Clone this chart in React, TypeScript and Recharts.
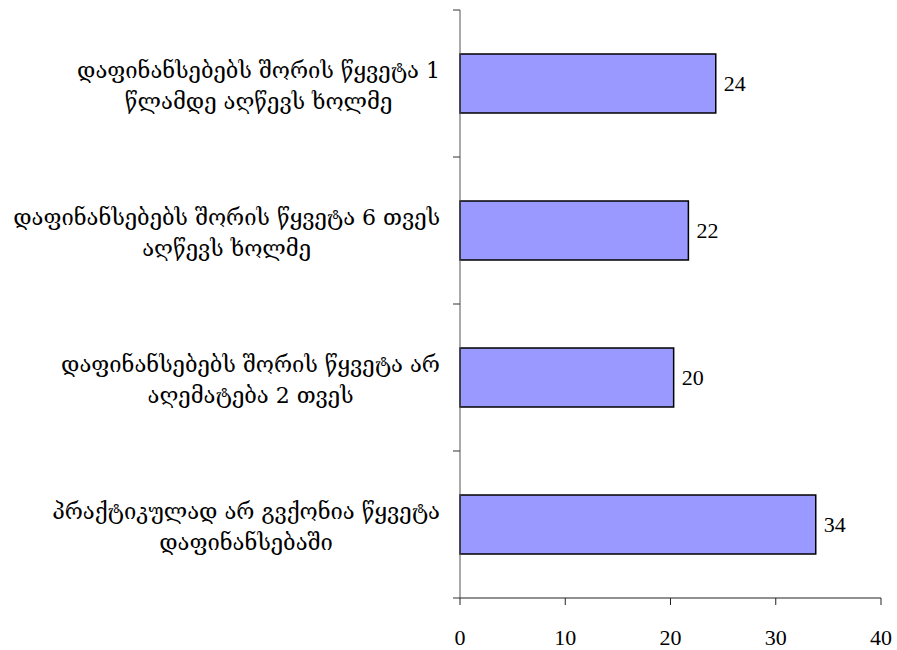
import React from 'react'
import { BarChart, Bar, XAxis, YAxis, LabelList } from 'recharts'

// category labels, "\n" marks the line break used in the original
const categories = [
  'დაფინანსებებს შორის წყვეტა 1\nწლამდე აღწევს ხოლმე',
  'დაფინანსებებს შორის წყვეტა 6 თვეს\nაღწევს ხოლმე',
  'დაფინანსებებს შორის წყვეტა არ\nაღემატება 2 თვეს',
  'პრაქტიკულად არ გვქონია წყვეტა\nდაფინანსებაში',
]
const values = [24.3, 21.7, 20.3, 33.8]
const xTicks = [0, 10, 20, 30, 40]

const data = categories.map((name, i) => ({ name, value: values[i] }))

const W = 897
const H = 650
const MARGIN = { top: 10, right: 16, left: 0, bottom: 0 }
const Y_AXIS_W = 460
const X_AXIS_H = 52
const PLOT_LEFT = MARGIN.left + Y_AXIS_W
const PLOT_H = H - MARGIN.top - X_AXIS_H
const BAND = PLOT_H / categories.length

const GEO_FONT = '"DejaVu Serif", "Liberation Serif", serif'
const NUM_FONT = '"Liberation Serif", "DejaVu Serif", serif'
const GEO_SIZE = 22
const LINE_H = 31

let ctx: CanvasRenderingContext2D | null = null
const measure = (s: string) => {
  if (!ctx) ctx = document.createElement('canvas').getContext('2d')
  if (!ctx) return s.length * GEO_SIZE * 0.6
  ctx.font = `${GEO_SIZE}px ${GEO_FONT}`
  return ctx.measureText(s).width
}

const CategoryTick = (props: any) => {
  const { y, payload, index } = props
  const lines: string[] = String(payload.value).split('\n')
  const blockW = Math.max(...lines.map(measure))
  const right = PLOT_LEFT - 20
  const cx = right - blockW / 2
  const n = lines.length
  const top = y - BAND / 2
  return (
    <g>
      <line x1={PLOT_LEFT - 7} x2={PLOT_LEFT} y1={top} y2={top} stroke="#333" />
      {index === categories.length - 1 && (
        <line x1={PLOT_LEFT - 7} x2={PLOT_LEFT} y1={y + BAND / 2} y2={y + BAND / 2} stroke="#333" />
      )}
      {lines.map((l, i) => (
        <text
          key={i}
          x={cx}
          y={y + (i - (n - 1) / 2) * LINE_H + 2}
          textAnchor="middle"
          dominantBaseline="central"
          fontFamily={GEO_FONT}
          fontSize={GEO_SIZE}
          fill="#000"
        >
          {l}
        </text>
      ))}
    </g>
  )
}

export default function App() {
  return (
    <div style={{ position: 'absolute', left: 0, top: 0, width: W, height: H, background: '#fff' }}>
      <BarChart
        width={W}
        height={H}
        data={data}
        layout="vertical"
        margin={MARGIN}
        barCategoryGap="30%"
      >
        <XAxis
          type="number"
          domain={[0, 40]}
          ticks={xTicks}
          height={X_AXIS_H}
          tickSize={7}
          tickMargin={24}
          axisLine={{ stroke: '#222' }}
          tickLine={{ stroke: '#222' }}
          tick={{ fill: '#000', fontSize: 22, fontFamily: NUM_FONT }}
        />
        <YAxis
          type="category"
          dataKey="name"
          width={Y_AXIS_W}
          axisLine={{ stroke: '#555' }}
          tickLine={false}
          tick={<CategoryTick />}
          interval={0}
        />
        <Bar
          dataKey="value"
          fill="#9999FF"
          stroke="#000"
          strokeWidth={1.5}
          isAnimationActive={false}
        >
          <LabelList
            dataKey="value"
            position="right"
            offset={8}
            formatter={(v: any) => Math.round(Number(v))}
            style={{ fill: '#000', fontSize: 22, fontFamily: NUM_FONT }}
          />
        </Bar>
      </BarChart>
    </div>
  )
}
